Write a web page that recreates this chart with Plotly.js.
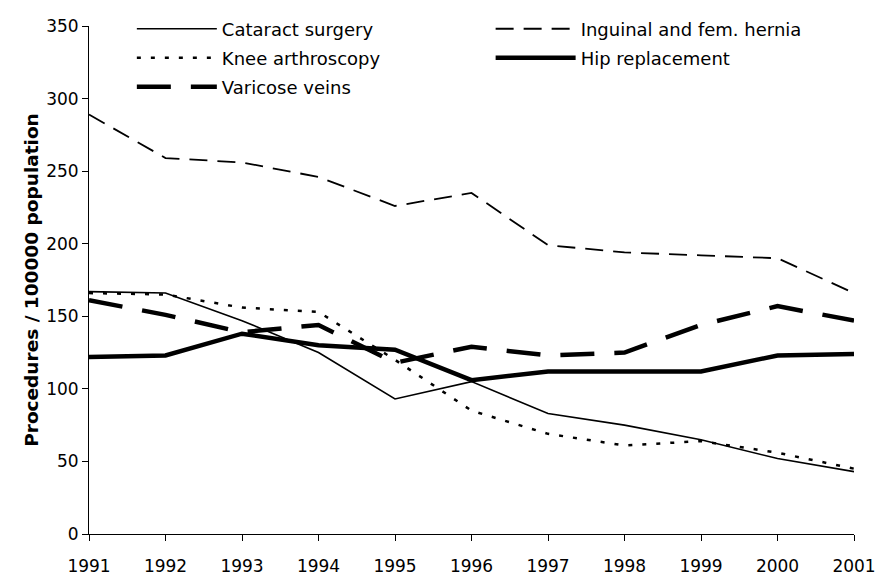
<!DOCTYPE html>
<html>
<head>
<meta charset="utf-8">
<script src="https://cdn.plot.ly/plotly-3.0.1.min.js"></script>
<style>html,body{margin:0;padding:0;background:#fff;}#chart{width:879px;height:576px;}</style>
</head>
<body>
<div id="chart"></div>
<script>
const years = [1991, 1992, 1993, 1994, 1995, 1996, 1997, 1998, 1999, 2000, 2001];
const cataract = [167, 166, 147, 125, 93, 105, 83, 75, 65, 52, 43];
const hernia = [289, 259, 256, 246, 226, 235, 199, 194, 192, 190, 166];
const knee = [166, 165, 156, 153, 120, 85, 69, 61, 64, 56, 45];
const hip = [122, 123, 138, 130, 127, 106, 112, 112, 112, 123, 124];
const varicose = [161, 151, 139, 144, 118, 129, 123, 125, 144, 157, 147];
const yTicks = [0, 50, 100, 150, 200, 250, 300, 350];

const font = '"DejaVu Sans", Arial, sans-serif';

const traces = [
  {x: years, y: cataract, name: 'Cataract surgery', mode: 'lines', legend: 'legend',
   line: {color: '#000', width: 1.6}},
  {x: years, y: hernia, name: 'Inguinal and fem. hernia', mode: 'lines', legend: 'legend2',
   line: {color: '#000', width: 1.8, dash: '18px,10px'}},
  {x: years, y: knee, name: 'Knee arthroscopy', mode: 'lines', legend: 'legend3',
   line: {color: '#000', width: 2.5, dash: '4px,10px'}},
  {x: years, y: hip, name: 'Hip replacement', mode: 'lines', legend: 'legend4',
   line: {color: '#000', width: 4.5}},
  {x: years, y: varicose, name: 'Varicose veins', mode: 'lines', legend: 'legend5',
   line: {color: '#000', width: 4.5, dash: '34px,20px'}}
];

function leg(x, y) {
  return {
    orientation: 'v', xanchor: 'left', yanchor: 'middle', x: x, y: y,
    bgcolor: 'rgba(0,0,0,0)', borderwidth: 0, itemwidth: 80,
    font: {family: font, size: 18, color: '#000'}
  };
}

const layout = {
  width: 879, height: 576,
  margin: {l: 89, r: 25, t: 25, b: 42},
  paper_bgcolor: '#fff', plot_bgcolor: '#fff',
  font: {family: font, size: 17, color: '#000'},
  showlegend: true,
  legend: leg(0.056, 0.992),
  legend2: leg(0.525, 0.992),
  legend3: leg(0.056, 0.935),
  legend4: leg(0.525, 0.935),
  legend5: leg(0.056, 0.878),
  xaxis: {
    range: [1991, 2001], tickmode: 'array', tickvals: years, ticktext: years.map(String),
    showgrid: false, zeroline: false, showline: true, linecolor: '#000', linewidth: 1,
    ticks: 'outside', ticklen: 6, tickcolor: '#000', tickwidth: 1,
    ticklabelstandoff: 11,
    tickfont: {family: font, size: 17, color: '#000'}
  },
  yaxis: {
    range: [0, 350], tickmode: 'array', tickvals: yTicks, ticktext: yTicks.map(String),
    showgrid: false, zeroline: false, showline: true, linecolor: '#000', linewidth: 1,
    ticks: 'outside', ticklen: 6, tickcolor: '#000', tickwidth: 1,
    tickfont: {family: font, size: 17, color: '#000'},
    title: {text: '<b>Procedures / 100000 population</b>', font: {family: font, size: 18.5, color: '#000'}, standoff: 2}
  }
};

Plotly.newPlot('chart', traces, layout, {displayModeBar: false, staticPlot: true});
</script>
</body>
</html>
